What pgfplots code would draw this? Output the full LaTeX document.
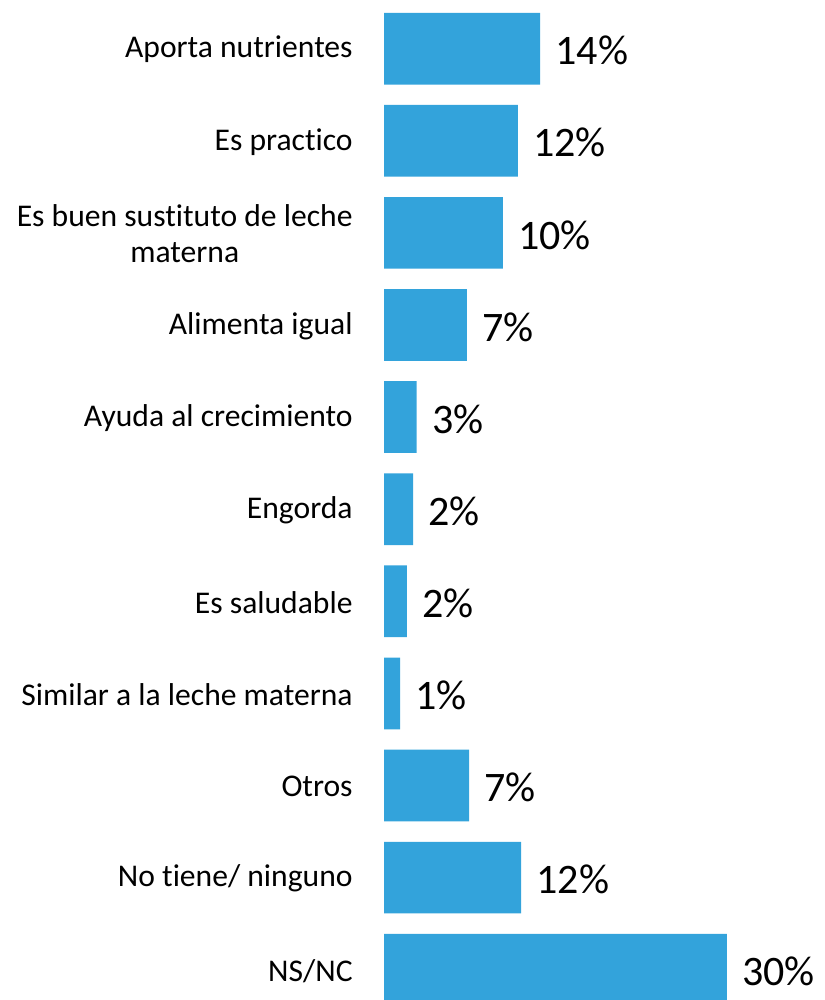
\documentclass[border=0pt]{standalone}
\usepackage{pgfplots}
\pgfplotsset{compat=1.18}
\usepackage{pgfplotstable}
\usepackage{fontspec}
\setmainfont[Ligatures=NoCommon]{Carlito}
\definecolor{barblue}{HTML}{33A3DB}
\pgfplotstableread{
y x lab
0 13.65 14
1 11.72 12
2 10.41 10
3 7.26 7
4 2.86 3
5 2.54 2
6 2.01 2
7 1.40 1
8 7.44 7
9 11.99 12
10 30.0 30
}\datatab
\begin{document}
\begin{tikzpicture}
\path[use as bounding box] (0,0) rectangle (412pt,500pt);
\begin{axis}[
  at={(192pt,-7.9pt)}, anchor=south west,
  scale only axis,
  width=205.74pt, height=506.6pt,
  xmin=0, xmax=36,
  ymin=-0.5, ymax=10.5,
  y dir=reverse,
  enlargelimits=false,
  clip=false,
  axis line style={draw=none},
  major tick length=0pt,
  xtick=\empty,
  ytick={0,...,10},
  yticklabels={Aporta nutrientes, Es practico, {Es buen sustituto de leche\\materna}, Alimenta igual, Ayuda al crecimiento, Engorda, Es saludable, Similar a la leche materna, Otros, No tiene/ ninguno, NS/NC},
  yticklabel style={align=center, anchor=east, inner sep=0pt, xshift=-15.5pt, yshift=-0.5pt, font=\fontsize{15.8}{18}\selectfont},
  xbar, bar width=35.85pt,
  nodes near coords={\pgfplotspointmeta\%},
  point meta=explicit symbolic,
  every node near coord/.style={anchor=west, inner sep=0pt, xshift=7.5pt, yshift=-1pt, font=\fontsize{21}{24}\selectfont, text=black},
]
\addplot[fill=barblue, draw=none] table[x=x, y=y, meta=lab] {\datatab};
\end{axis}
\end{tikzpicture}
\end{document}
